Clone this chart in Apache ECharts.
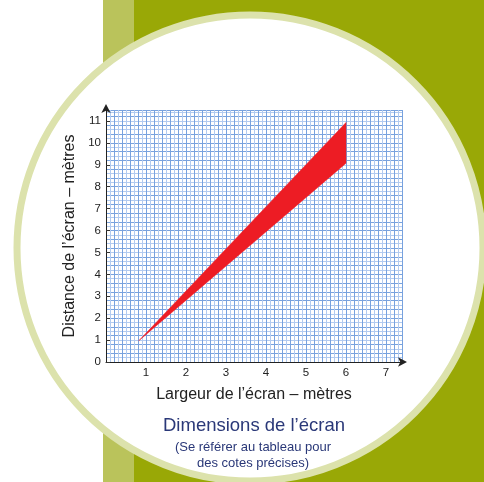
<!DOCTYPE html>
<html>
<head>
<meta charset="utf-8">
<script src="https://cdn.jsdelivr.net/npm/echarts@6/dist/echarts.min.js"></script>
<style>
html,body{margin:0;padding:0;background:#ffffff;}
#chart{width:484px;height:482px;}
</style>
</head>
<body>
<div id="chart"></div>
<script>
// Data
const largeur = [0.82, 6];          // screen width (m)
const distanceMax = [0.97, 10.93];  // upper bound of distance (m)
const distanceMin = [0.97, 9.07];   // lower bound of distance (m)
const xTickLabels = [1, 2, 3, 4, 5, 6, 7];
const yTickLabels = [0, 1, 2, 3, 4, 5, 6, 7, 8, 9, 10, 11];

const FONT = '"Liberation Sans", Arial, Helvetica, sans-serif';
const chart = echarts.init(document.getElementById('chart'), null, {renderer: 'canvas'});

const option = {
  animation: false,
  backgroundColor: 'transparent',
  graphic: [
    {type: 'rect', z: -20, silent: true, shape: {x: 103, y: 0, width: 31, height: 482}, style: {fill: '#bac35b'}},
    {type: 'rect', z: -20, silent: true, shape: {x: 134, y: 0, width: 350, height: 482}, style: {fill: '#99a806'}},
    {type: 'circle', z: -15, silent: true, shape: {cx: 250, cy: 248, r: 233}, style: {fill: '#ffffff', stroke: '#dce2ac', lineWidth: 7}},
    {type: 'text', silent: true, x: 254, y: 426, style: {text: 'Dimensions de l\u2019\u00e9cran', font: '18.5px ' + FONT, fill: '#2a3878', textAlign: 'center', textVerticalAlign: 'middle'}},
    {type: 'text', silent: true, x: 253, y: 447, style: {text: '(Se r\u00e9f\u00e9rer au tableau pour', font: '13px ' + FONT, fill: '#2a3878', textAlign: 'center', textVerticalAlign: 'middle'}},
    {type: 'text', silent: true, x: 253, y: 463, style: {text: 'des cotes pr\u00e9cises)', font: '13px ' + FONT, fill: '#2a3878', textAlign: 'center', textVerticalAlign: 'middle'}}
  ],
  grid: {left: 106, top: 110, width: 296, height: 252, containLabel: false},
  xAxis: [
    {
      type: 'value', min: 0, max: 7.4, interval: 1,
      name: 'Largeur de l\u2019\u00e9cran \u2013 m\u00e8tres', nameLocation: 'middle', nameGap: 25,
      nameTextStyle: {fontFamily: FONT, fontSize: 16, color: '#222'},
      axisLine: {show: true, lineStyle: {color: '#222', width: 1}, symbol: ['none', 'arrow'], symbolSize: [7, 9], symbolOffset: [0, 5]},
      axisTick: {show: false},
      axisLabel: {margin: 5, fontFamily: FONT, fontSize: 11.5, color: '#222', showMaxLabel: false,
        formatter: v => (xTickLabels.indexOf(v) >= 0 ? String(v) : '')},
      splitLine: {show: false}
    },
    {
      type: 'value', min: 0, max: 7.4, interval: 0.1, position: 'bottom',
      axisLine: {show: false}, axisTick: {show: false}, axisLabel: {show: false},
      splitLine: {show: true, lineStyle: {color: ['#78a2de', '#b2cbf0'], width: 1}}
    }
  ],
  yAxis: [
    {
      type: 'value', min: 0, max: 11.5, interval: 1,
      name: 'Distance de l\u2019\u00e9cran \u2013 m\u00e8tres', nameLocation: 'middle', nameGap: 28,
      nameTextStyle: {fontFamily: FONT, fontSize: 16, color: '#222'},
      axisLine: {show: true, lineStyle: {color: '#222', width: 1}, symbol: ['none', 'arrow'], symbolSize: [7, 9], symbolOffset: [0, 6]},
      axisTick: {show: true, inside: true, length: 4, lineStyle: {color: '#333'}},
      axisLabel: {margin: 5, fontFamily: FONT, fontSize: 11.5, color: '#222', showMaxLabel: false,
        formatter: v => (yTickLabels.indexOf(v) >= 0 ? String(v) : '')},
      splitLine: {show: false}
    },
    {
      type: 'value', min: 0, max: 11.5, interval: 0.2, position: 'left',
      axisLine: {show: false}, axisTick: {show: false}, axisLabel: {show: false},
      splitLine: {show: true, lineStyle: {color: ['#78a2de', '#b2cbf0'], width: 1}}
    }
  ],
  series: [
    {
      type: 'custom', xAxisIndex: 0, yAxisIndex: 0, z: 5,
      data: [[0]],
      renderItem: function (params, api) {
        const pts = [];
        for (let i = 0; i < largeur.length; i++) pts.push(api.coord([largeur[i], distanceMax[i]]));
        for (let i = largeur.length - 1; i >= 0; i--) pts.push(api.coord([largeur[i], distanceMin[i]]));
        return {type: 'polygon', shape: {points: pts}, style: {fill: '#ed1c24', stroke: '#ed1c24', lineWidth: 0.5}};
      }
    }
  ]
};
chart.setOption(option);
</script>
</body>
</html>
